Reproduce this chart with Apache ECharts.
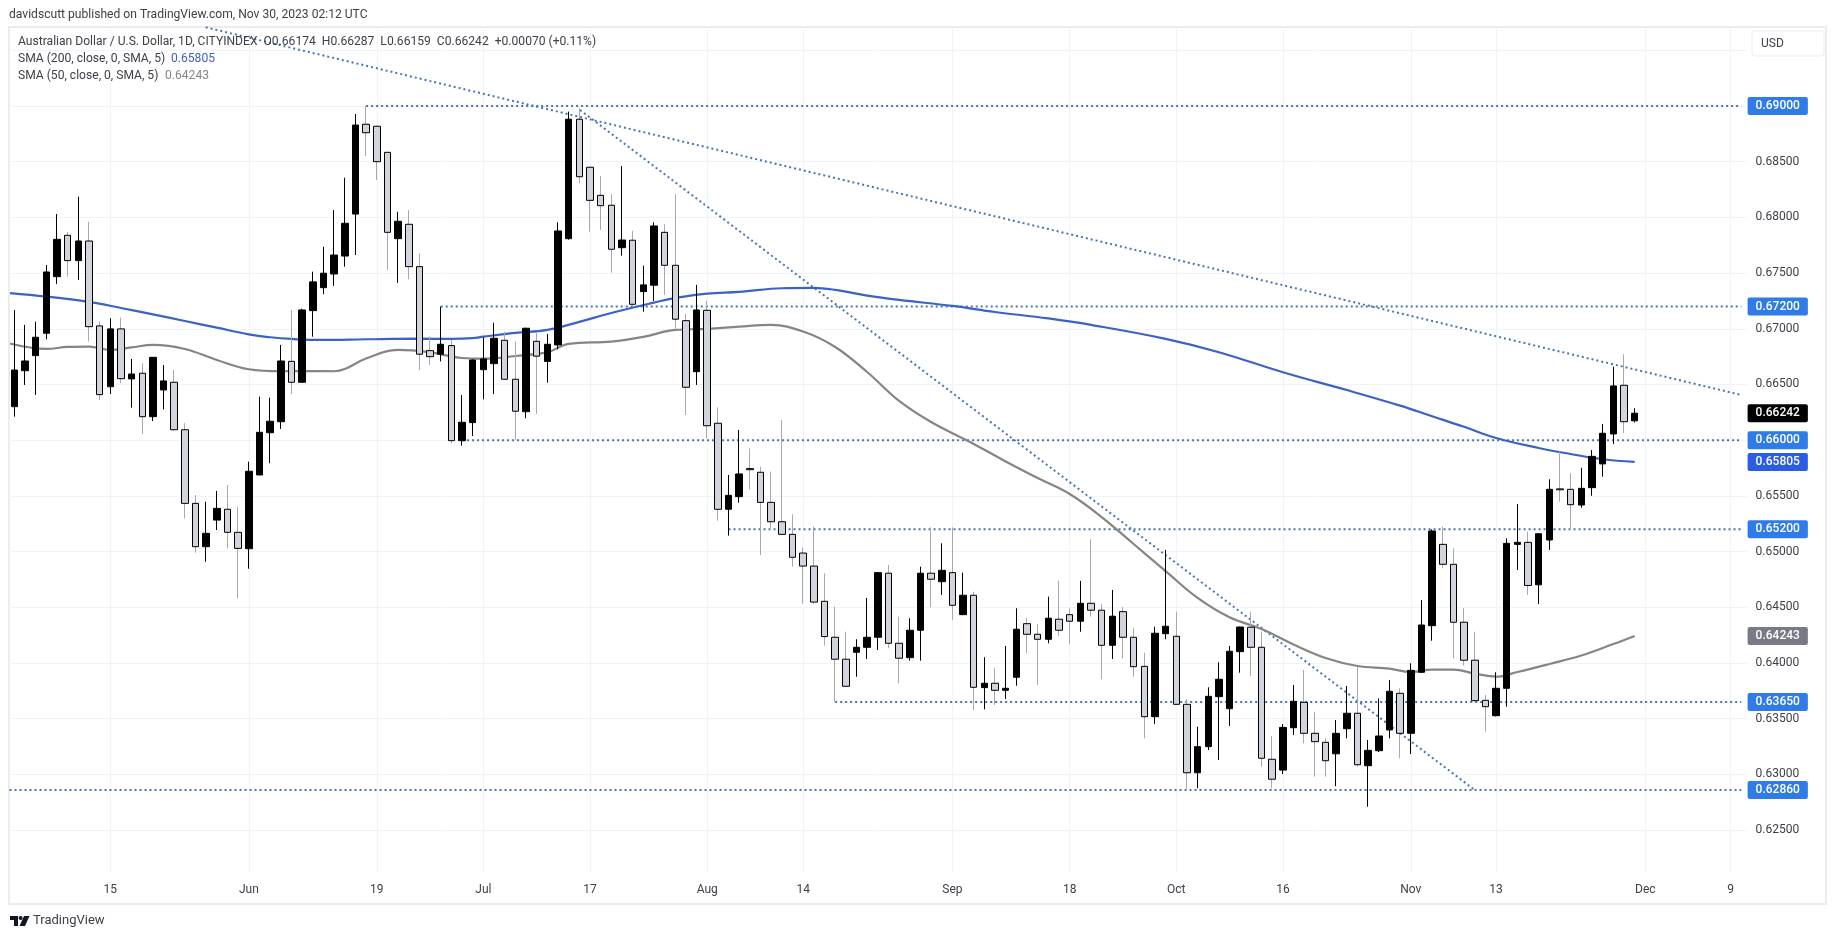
<!DOCTYPE html>
<html><head><meta charset="utf-8">
<style>html,body{margin:0;padding:0;background:#fff}#c{width:1835px;height:939px}</style>
<script src="https://cdn.jsdelivr.net/npm/echarts@6/dist/echarts.min.js"></script>
</head><body><div id="c"></div>
<script>
const opens=[.66301,.66624,.66759,.66960,.67468,.67839,.67612,.67788,.67026,.66480,.66999,.66550,.66601,.66211,.66451,.66520,.66094,.65433,.65044,.65283,.65380,.65173,.65026,.65688,.66067,.66166,.66708,.66520,.67163,.67369,.67492,.67653,.68030,.68836,.68818,.68584,.67809,.67938,.67558,.66804,.66772,.66849,.65996,.66158,.66633,.66687,.66897,.66547,.66256,.66888,.66707,.66855,.67809,.68881,.68450,.68198,.68109,.67728,.67795,.67334,.67391,.67866,.67570,.67073,.66615,.67166,.66152,.65380,.65493,.65745,.65712,.65442,.65268,.65155,.64987,.64870,.64554,.64231,.64034,.64096,.64141,.64231,.64806,.64177,.64048,.64294,.64806,.64730,.64811,.64434,.64608,.63779,.63818,.63755,.63872,.64353,.64258,.64213,.64393,.64434,.64375,.64536,.64474,.64159,.64461,.64231,.63970,.63518,.64263,.64240,.63629,.63015,.63249,.63698,.63590,.64102,.64321,.64141,.63136,.63039,.63419,.63647,.63369,.63288,.63185,.63410,.63549,.63078,.63213,.63399,.63728,.63369,.63917,.64335,.65065,.64886,.64366,.64025,.63665,.63527,.63773,.65065,.65083,.64702,.65104,.65563,.65559,.65418,.65574,.65787,.66056,.66493,.66174];
const closes=[.66630,.66711,.66924,.67510,.67803,.67612,.67788,.67019,.66409,.66999,.66552,.66594,.66211,.66744,.66532,.66094,.65433,.65044,.65164,.65388,.65173,.65029,.65721,.66071,.66170,.66711,.66520,.67169,.67421,.67499,.67662,.67947,.68829,.68760,.68500,.67866,.67965,.67558,.66772,.66750,.66861,.65996,.66161,.66720,.66729,.66915,.66547,.66260,.67005,.66754,.66861,.67878,.68881,.68365,.68153,.68105,.67714,.67797,.67220,.67394,.67923,.67570,.67086,.66475,.67169,.66130,.65380,.65505,.65697,.65735,.65442,.65268,.65155,.64949,.64870,.64547,.64237,.64034,.63791,.64141,.64231,.64811,.64177,.64043,.64294,.64806,.64752,.64832,.64518,.64608,.63782,.63818,.63755,.63773,.64303,.64258,.64213,.64402,.64294,.64375,.64536,.64474,.64159,.64420,.64231,.63967,.63518,.64267,.64330,.63629,.63015,.63249,.63701,.63854,.64105,.64323,.64141,.63145,.62957,.63422,.63656,.63369,.63294,.63123,.63369,.63549,.63087,.63216,.63345,.63746,.63369,.63934,.64341,.65185,.64886,.64366,.64025,.63662,.63608,.63773,.65074,.65083,.64696,.65160,.65559,.65555,.65421,.65568,.65855,.66062,.66487,.66166,.66242];
const highs=[.67169,.67035,.67064,.67573,.68030,.67869,.68186,.67961,.67064,.67095,.67100,.66729,.66690,.66747,.66675,.66630,.66152,.65508,.65448,.65544,.65598,.65403,.65807,.66391,.66382,.66855,.67169,.67180,.67513,.67736,.68066,.68356,.68928,.69000,.68825,.68590,.68051,.68066,.67678,.66929,.67199,.66900,.66406,.66725,.66924,.67055,.66974,.66885,.67010,.66963,.66954,.67956,.68950,.68979,.68455,.68372,.68210,.68461,.67881,.67567,.67956,.67938,.68210,.67133,.67394,.67250,.66295,.65688,.66092,.65927,.65762,.65718,.66181,.65335,.65038,.65223,.64806,.64506,.64281,.64213,.64584,.64816,.64880,.64416,.64402,.64865,.65218,.65074,.65218,.64811,.64640,.64052,.63958,.64153,.64491,.64402,.64348,.64596,.64739,.64491,.64737,.65110,.64530,.64656,.64503,.64312,.64093,.64326,.65015,.64461,.63677,.63428,.63782,.64007,.64153,.64326,.64461,.64281,.63345,.63452,.63803,.63937,.63563,.63324,.63488,.63794,.63967,.63309,.63683,.63848,.63773,.63997,.64566,.65200,.65223,.65029,.64491,.64281,.63713,.63917,.65119,.65427,.65178,.65165,.65649,.65897,.65703,.65753,.65912,.66146,.66660,.66771,.66287];
const lows=[.66211,.66496,.66406,.66906,.67403,.67468,.67439,.66885,.66361,.66415,.66511,.66292,.66056,.66172,.66277,.66085,.65299,.64990,.64909,.65194,.65029,.64580,.64846,.65688,.65793,.66101,.66415,.66520,.66929,.67310,.67385,.67558,.67662,.68551,.68336,.67528,.67412,.67445,.66630,.66675,.66707,.65972,.65951,.66038,.66367,.66413,.66540,.66002,.66197,.66235,.66516,.66816,.67800,.68306,.67872,.67887,.67504,.67656,.67199,.67154,.67250,.67304,.67005,.66226,.66496,.66017,.65277,.65143,.65439,.65559,.64969,.65208,.65150,.64865,.64532,.64532,.64156,.63653,.63785,.63877,.64036,.64117,.64132,.63818,.64021,.64021,.64500,.64611,.64386,.64430,.63578,.63584,.63623,.63677,.63796,.64087,.63803,.64177,.64243,.64168,.64281,.64416,.63854,.64036,.64043,.63877,.63324,.63452,.64213,.63625,.62860,.62875,.63219,.63129,.63435,.63913,.63884,.63070,.62875,.63003,.63353,.63279,.62980,.62980,.62895,.63324,.63070,.62710,.63201,.63324,.63145,.63183,.63910,.64200,.64850,.64043,.63977,.63655,.63384,.63520,.63608,.64835,.64611,.64530,.65015,.65448,.65209,.65394,.65502,.65672,.65966,.66062,.66159];
const sma200Index=[-0.4,3,7,10,13,16,19,22,24,26,29,33,38,41,43,44,47,50,53,56,60,62,65,68,72,75,77,80,83,88,92,97,101,108,113,119,125,130,133,136,139,143,146,149,152];
const sma200Value=[.67321,.67290,.67241,.67187,.67129,.67070,.67010,.66950,.66924,.66909,.66900,.66906,.66911,.66909,.66916,.66929,.66963,.66990,.67062,.67142,.67235,.67277,.67316,.67331,.67364,.67367,.67349,.67298,.67259,.67205,.67151,.67093,.67035,.66910,.66790,.66610,.66450,.66310,.66215,.66120,.66020,.65930,.65876,.65829,.65805];
const sma50Index=[-0.4,3,5,7,9,11,13,16,19,22,25,28,30,31,33,36,39,42,44,47,50,52,56,59,62,65,68,71,74,77,80,83,86,90,93,96,99,102,105,108,111,114,117,120,123,126,129,131,133,135,137,139,141,144,147,150,152];
const sma50Value=[.66868,.66819,.66837,.66840,.66810,.66833,.66855,.66819,.66720,.66637,.66619,.66621,.66619,.66639,.66733,.66810,.66788,.66738,.66732,.66756,.66790,.66864,.66885,.66927,.66990,.66999,.67019,.67035,.66975,.66837,.66612,.66352,.66163,.65966,.65809,.65660,.65517,.65310,.65068,.64825,.64584,.64410,.64305,.64166,.64045,.63973,.63950,.63919,.63941,.63941,.63905,.63877,.63919,.63991,.64067,.64170,.64243];
const levelValue=[.69,.672,.66,.652,.6365,.6286];
const levelFrom=[33,40,42,67,77,-0.45];
const levelTo=162;
const trendOne=[[17.95,.69706],[162,.66406]];
const trendTwo=[[53.07,.68964],[137,.6286]];
const gridPrices=[.625,.63,.635,.64,.645,.65,.655,.66,.665,.67,.675,.68,.685,.69,.695];
const plainLabels=[.625,.63,.635,.64,.645,.65,.655,.665,.67,.675,.68,.685];
const levelBadges=[.69,.672,.66,.652,.6365,.6286];
const lastPrice=.66242, sma200Last=.65805, sma50Last=.64243;
const timeLabels={'2023-05-15':'15','2023-06-01':'Jun','2023-06-19':'19','2023-07-03':'Jul','2023-07-17':'17','2023-08-01':'Aug','2023-08-14':'14','2023-09-01':'Sep','2023-09-18':'18','2023-10-02':'Oct','2023-10-16':'16','2023-11-01':'Nov','2023-11-13':'13','2023-12-01':'Dec','2023-12-09':'9'};

function iso(d){return d.toISOString().slice(0,10)}
const categories=[];
for(let d=new Date(Date.UTC(2023,4,2));categories.length<opens.length;d=new Date(d.getTime()+864e5)){
  const w=d.getUTCDay(); if(w!==0&&w!==6) categories.push(iso(d));
}
for(let i=1;i<=10;i++) categories.push('2023-12-'+String(i).padStart(2,'0'));

const wickData=opens.map((o,i)=>[o,closes[i],lows[i],highs[i]]);
const bodyData=opens.map((o,i)=>[o,closes[i],Math.min(o,closes[i]),Math.max(o,closes[i])]);
const pair=(a,b)=>a.map((x,i)=>[x,b[i]]);
const FONT='Roboto';
const DOT='#4a74ae';
const badgeKey={};
levelBadges.forEach(v=>badgeKey[v.toFixed(5)]='lvl');
badgeKey[lastPrice.toFixed(5)]='last';
badgeKey[sma200Last.toFixed(5)]='blue';
badgeKey[sma50Last.toFixed(5)]='grey';

const dotted=(data)=>({type:'line',xAxisIndex:1,data,showSymbol:false,silent:true,z:2,animation:false,
  lineStyle:{color:DOT,width:2,type:[2,3]}});
const series=[
  ...levelValue.map((v,i)=>dotted([[levelFrom[i],v],[levelTo,v]])),
  dotted(trendOne),dotted(trendTwo),
  {type:'line',name:'SMA 200',xAxisIndex:1,data:pair(sma200Index,sma200Value),showSymbol:false,smooth:0.4,z:3,
   lineStyle:{color:'#3b62c4',width:2.2}},
  {type:'line',name:'SMA 50',xAxisIndex:1,data:pair(sma50Index,sma50Value),showSymbol:false,smooth:0.4,z:3,
   lineStyle:{color:'#858585',width:2.2}},
  {type:'candlestick',name:'wick',data:wickData,barWidth:1,z:4,
   itemStyle:{color:'#000',color0:'#a8a8ae',borderColor:'#000',borderColor0:'#a8a8ae',borderWidth:1}},
  {type:'candlestick',name:'body',data:bodyData,barWidth:7,z:5,
   itemStyle:{color:'#000',color0:'#d1d4dc',borderColor:'#000',borderColor0:'#000',borderWidth:1}}
];
const TXT='#3f4048';
const T12='12.1px '+FONT;
const option={
  animation:false,backgroundColor:'#fff',
  grid:{left:9,top:27,width:1737.6,height:846,containLabel:false},
  xAxis:[
   {type:'category',data:categories,boundaryGap:true,axisLine:{show:false},axisTick:{show:false},
    axisLabel:{interval:(i,v)=>v in timeLabels,formatter:v=>timeLabels[v]||'',color:TXT,fontFamily:FONT,fontSize:12,margin:11,hideOverlap:false},
    splitLine:{show:true,alignWithLabel:true,interval:(i,v)=>v in timeLabels,lineStyle:{color:'#f0f3fa',width:1}}},
   {type:'value',min:-0.5,max:162.5,show:false,splitLine:{show:false}}
  ],
  yAxis:{type:'value',position:'right',min:.62115,max:.69709,scale:true,axisLine:{show:false},
    axisTick:{show:false,customValues:gridPrices},
    splitLine:{show:true,lineStyle:{color:'#f0f3fa',width:1}},
    axisLabel:{customValues:[...plainLabels,...levelBadges,lastPrice,sma200Last,sma50Last],margin:1,hideOverlap:false,
      showMinLabel:true,showMaxLabel:true,
      formatter:v=>{const k=v.toFixed(5);return '{'+(badgeKey[k]||'p')+'|'+k+'}'},
      rich:{
        p:{color:TXT,fontFamily:FONT,fontSize:12,padding:[0,8,0,8]},
        lvl:{color:'#fff',fontFamily:FONT,fontSize:12,fontWeight:500,backgroundColor:'#2f7be8',padding:[3,8,3,8],borderRadius:2},
        blue:{color:'#fff',fontFamily:FONT,fontSize:12,fontWeight:500,backgroundColor:'#2a5ce6',padding:[3,8,3,8],borderRadius:2},
        last:{color:'#fff',fontFamily:FONT,fontSize:12,fontWeight:500,backgroundColor:'#000',padding:[3,8,3,8],borderRadius:2},
        grey:{color:'#fff',fontFamily:FONT,fontSize:12,fontWeight:500,backgroundColor:'#787b86',padding:[3,8,3,8],borderRadius:2}
      }}},
  series,
  graphic:[
    {type:'rect',silent:true,z:0,shape:{x:9,y:27,width:1817,height:877},style:{fill:'none',stroke:'#ececef',lineWidth:2}},
    {type:'rect',silent:true,z:1,shape:{x:1752,y:31,width:72,height:25,r:3},style:{fill:'#fff',stroke:'#ececef',lineWidth:1}},
    {type:'text',silent:true,z:6,style:{x:1761,y:44,text:'USD',font:'12px '+FONT,fill:TXT,textVerticalAlign:'middle'}},
    {type:'text',silent:true,z:6,style:{x:9,y:15,text:'davidscutt published on TradingView.com, Nov 30, 2023 02:12 UTC',font:T12,fill:TXT,textVerticalAlign:'middle'}},
    {type:'text',silent:true,z:6,style:{x:18,y:42,text:'Australian Dollar / U.S. Dollar, 1D, CITYINDEX  O0.66174  H0.66287  L0.66159  C0.66242  +0.00070 (+0.11%)',font:T12,fill:TXT,textVerticalAlign:'middle'}},
    {type:'text',silent:true,z:6,style:{x:18,y:59,text:'SMA (200, close, 0, SMA, 5)',font:T12,fill:TXT,textVerticalAlign:'middle'}},
    {type:'text',silent:true,z:6,style:{x:171,y:59,text:'0.65805',font:T12,fill:'#3b62c4',textVerticalAlign:'middle'}},
    {type:'text',silent:true,z:6,style:{x:18,y:76,text:'SMA (50, close, 0, SMA, 5)',font:T12,fill:TXT,textVerticalAlign:'middle'}},
    {type:'text',silent:true,z:6,style:{x:165,y:76,text:'0.64243',font:T12,fill:'#858585',textVerticalAlign:'middle'}},
    {type:'polygon',silent:true,z:6,shape:{points:[[10,916],[18,916],[18,926],[14,926],[14,920],[10,920]]},style:{fill:'#131722'}},
    {type:'circle',silent:true,z:6,shape:{cx:20.6,cy:918,r:2},style:{fill:'#131722'}},
    {type:'polygon',silent:true,z:6,shape:{points:[[24,916],[29.5,916],[25,926],[19.5,926]]},style:{fill:'#131722'}},
    {type:'text',silent:true,z:6,style:{x:33,y:921,text:'TradingView',font:'13px '+FONT,fill:TXT,textVerticalAlign:'middle'}}
  ]
};
echarts.init(document.getElementById('c'),null,{renderer:'canvas'}).setOption(option);
</script></body></html>
